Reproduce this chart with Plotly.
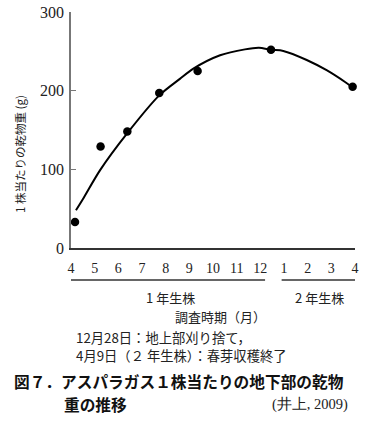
import plotly.graph_objects as go

# Month positions (0 = April of year 1 ... 12 = April of year 2)
tick_vals = list(range(13))
tick_text = ["4", "5", "6", "7", "8", "9", "10", "11", "12", "1", "2", "3", "4"]

# Observed dry weight (g / plant)
obs_x = [0.17, 1.25, 2.38, 3.73, 5.35, 8.45, 11.9]
obs_y = [33, 129, 148, 197, 225, 252, 205]

# Fitted curve
curve_x = [0.21, 0.5, 1.23, 2.38, 3.73, 4.6, 5.17, 6.3, 7.35, 7.94, 8.45, 8.97, 9.96, 10.8, 11.58, 11.9]
curve_y = [48, 62, 99, 146, 194, 215, 228, 245, 252.5, 254.5, 252, 250.5, 239, 226, 211, 204]

y_ticks = [0, 100, 200, 300]

serif = "Liberation Serif, DejaVu Serif, serif"
cjk = "Noto Sans CJK JP, sans-serif"

L, T, W, H = 71, 12, 284, 236  # plot area in reference pixels


def px(xp):
    return (xp - L) / W


def py(yp):
    return (T + H - yp) / H


fig = go.Figure()
fig.add_trace(go.Scatter(x=curve_x, y=curve_y, mode="lines",
                         line=dict(color="black", width=2, shape="spline", smoothing=0.8),
                         hoverinfo="skip", showlegend=False))
fig.add_trace(go.Scatter(x=obs_x, y=obs_y, mode="markers",
                         marker=dict(color="black", size=8.5),
                         showlegend=False, cliponaxis=False))

fig.update_layout(
    width=387, height=423,
    margin=dict(l=L, r=387 - L - W, t=T, b=423 - T - H, autoexpand=False),
    plot_bgcolor="white", paper_bgcolor="white",
    xaxis=dict(range=[0, 12], tickvals=tick_vals, ticktext=tick_text, automargin=False,
               showgrid=False, zeroline=False, showline=True, linecolor="#333",
               linewidth=1.5, ticks="", ticklabelstandoff=6, ticklabeloverflow="allow",
               tickfont=dict(family=serif, size=14, color="#222")),
    yaxis=dict(range=[0, 300], tickvals=y_ticks, showgrid=False, zeroline=False,
               automargin=False, ticklabeloverflow="allow",
               showline=True, linecolor="#777", linewidth=1.5, ticks="inside",
               ticklen=5, tickcolor="#777", ticklabelstandoff=2,
               tickfont=dict(family=serif, size=16, color="#222")),
)

# Y axis title
fig.add_annotation(x=px(20), y=py(154), xref="paper", yref="paper",
                   text="1 株当たりの乾物重 (g)", textangle=-90, showarrow=False,
                   xanchor="center", yanchor="middle",
                   font=dict(family=cjk, size=11.5, color="#222"))

# Group brackets under x axis
fig.add_shape(type="line", xref="x", yref="paper", x0=0, x1=8.2, y0=py(280), y1=py(280),
              line=dict(color="#666", width=2))
fig.add_shape(type="line", xref="x", yref="paper", x0=8.9, x1=12.05, y0=py(280), y1=py(280),
              line=dict(color="#666", width=2))

ann = [
    dict(x=4.2, y=py(297), text="1 年生株"),
    dict(x=10.5, y=py(297), text="2 年生株"),
    dict(x=6.33, y=py(316), text="調査時期（月）"),
]
for a in ann:
    fig.add_annotation(x=a["x"], y=a["y"], xref="x", yref="paper", text=a["text"],
                       showarrow=False, yanchor="middle",
                       font=dict(family=cjk, size=13, color="#222"))

fig.add_annotation(x=px(74), y=py(337), xref="paper", yref="paper",
                   text="12月28日：地上部刈り捨て，",
                   showarrow=False, xanchor="left", yanchor="middle",
                   font=dict(family=cjk, size=13.3, color="#222"))
fig.add_annotation(x=px(74), y=py(355), xref="paper", yref="paper",
                   text="4月9日（２ 年生株）：春芽収穫終了",
                   showarrow=False, xanchor="left", yanchor="middle",
                   font=dict(family=cjk, size=13.3, color="#222"))
fig.add_annotation(x=px(12), y=py(381), xref="paper", yref="paper",
                   text="<b>図７．アスパラガス１株当たりの地下部の乾物</b>",
                   showarrow=False, xanchor="left", yanchor="middle",
                   font=dict(family=cjk, size=15.7, color="#111"))
fig.add_annotation(x=px(62), y=py(404), xref="paper", yref="paper",
                   text="<b>重の推移</b>",
                   showarrow=False, xanchor="left", yanchor="middle",
                   font=dict(family=cjk, size=15.7, color="#111"))
fig.add_annotation(x=px(350), y=py(404), xref="paper", yref="paper",
                   text="(井上, 2009)",
                   showarrow=False, xanchor="right", yanchor="middle",
                   font=dict(family=serif, size=14.5, color="#222"))

fig.write_html("out.html", config={"displayModeBar": False},
               post_script="document.body.style.margin='0px';")
